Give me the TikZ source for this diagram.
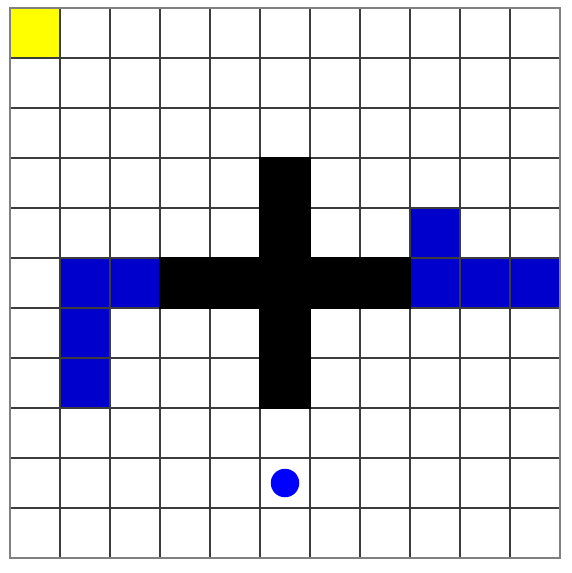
\documentclass[tikz,border=0pt]{standalone}
\usepackage{tikz}
\definecolor{goalc}{RGB}{255,255,0}
\definecolor{wallc}{RGB}{0,0,0}
\definecolor{waterc}{RGB}{0,0,204}
\definecolor{agentc}{RGB}{0,0,255}
\definecolor{gridc}{RGB}{60,60,60}
\definecolor{framec}{RGB}{128,128,128}

\begin{document}
\begin{tikzpicture}[y=-1cm, line cap=rect]
  \def\N{11}
  \useasboundingbox (-0.2,-0.16) rectangle (11.22,11.3);

  % goal cell, top left
  \fill[goalc] (0,0) rectangle ++(1,1);

  % blue cells left and right of the cross
  \foreach \c/\r in {1/5,2/5,1/6,1/7,8/4,8/5,9/5,10/5}{
    \fill[waterc] (\c,\r) rectangle ++(1,1);
  }

  % grid lines
  \foreach \i in {1,...,10}{
    \draw[gridc, line width=0.7pt] (\i,0) -- (\i,\N);
    \draw[gridc, line width=0.7pt] (0,\i) -- (\N,\i);
  }

  % walls: a cross of black cells, drawn over the grid
  \foreach \c/\r in {5/3,5/4,5/6,5/7,3/5,4/5,5/5,6/5,7/5}{
    \filldraw[wallc, line width=0.7pt] (\c,\r) rectangle ++(1,1);
  }

  \draw[framec, line width=1.1pt] (0,0) rectangle (\N,\N);

  % agent
  \fill[agentc] (5.5,9.5) circle (0.285);
\end{tikzpicture}
\end{document}
